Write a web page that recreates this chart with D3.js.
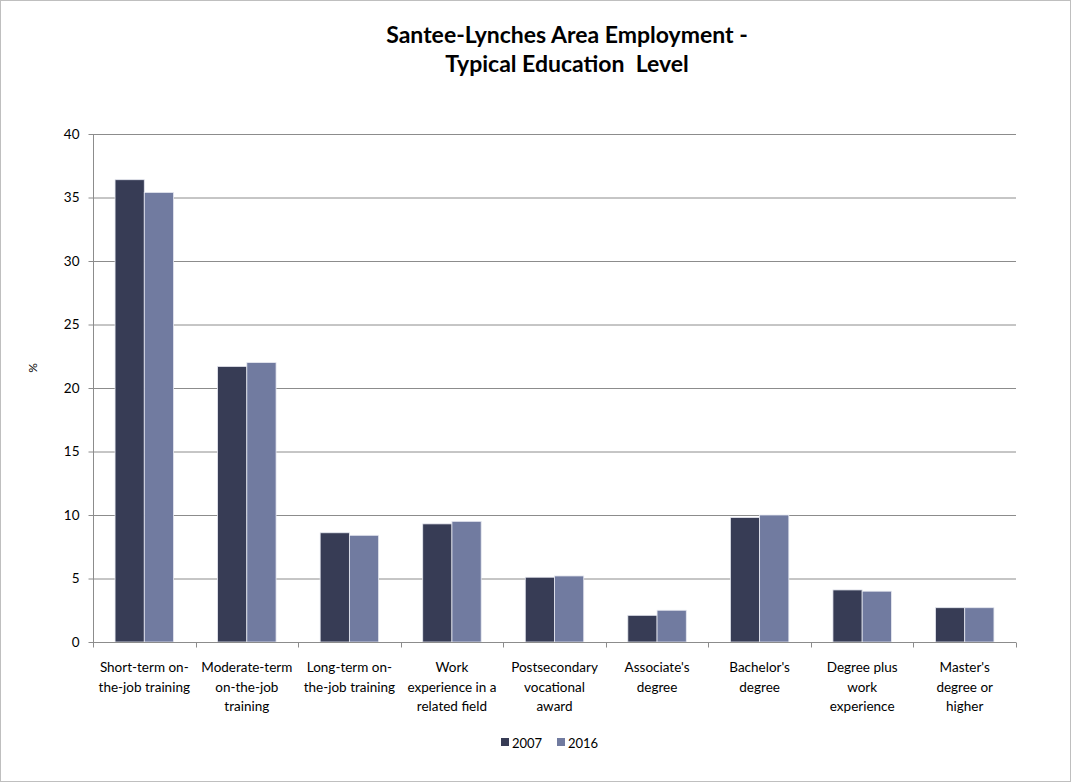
<!DOCTYPE html>
<html><head><meta charset="utf-8">
<script src="https://cdn.jsdelivr.net/npm/d3@7"></script>
<style>body{margin:0;background:#fff}svg{display:block}</style>
</head><body>
<script>
const categories = [
  ["Short-term on-","the-job training"],
  ["Moderate-term","on-the-job","training"],
  ["Long-term on-","the-job training"],
  ["Work","experience in a","related field"],
  ["Postsecondary","vocational","award"],
  ["Associate's","degree"],
  ["Bachelor's","degree"],
  ["Degree plus","work","experience"],
  ["Master's","degree or","higher"]
];
const seriesNames = ["2007","2016"];
const values2007 = [36.4, 21.7, 8.6, 9.3, 5.1, 2.1, 9.8, 4.1, 2.7];
const values2016 = [35.4, 22.0, 8.4, 9.5, 5.2, 2.5, 10.0, 4.0, 2.7];
const yTicks = [0,5,10,15,20,25,30,35,40];
const colors = ["#373C55","#717BA0"];
const titleLines = ["Santee-Lynches Area Employment -","Typical Education  Level"];

const W=1071,H=782;
const m={left:93,right:1016,top:134,bottom:642};
const font="Lato, 'Open Sans', sans-serif";
const svg=d3.select("body").append("svg").attr("width",W).attr("height",H);
svg.append("rect").attr("x",0.5).attr("y",0.5).attr("width",W-1).attr("height",H-1).attr("fill","#fff").attr("stroke","#bfbfbf");

const x=d3.scaleBand().domain(d3.range(categories.length)).range([m.left,m.right]).paddingInner(0.43).paddingOuter(0.215);
const x1=d3.scaleBand().domain(seriesNames).range([0,x.bandwidth()]);
const y=d3.scaleLinear().domain([0,40]).range([m.bottom,m.top]);

// grid
svg.append("g").selectAll("line").data(yTicks.filter(d=>d>0)).join("line")
  .attr("x1",m.left).attr("x2",m.right).attr("y1",d=>y(d)+0.5).attr("y2",d=>y(d)+0.5)
  .attr("stroke","#8c8c8c").attr("stroke-width",1);

// bars
const data=[values2007,values2016];
const g=svg.append("g");
seriesNames.forEach((s,si)=>{
  g.selectAll(".b"+si).data(data[si]).join("rect")
   .attr("x",(d,i)=>x(i)+x1(s)).attr("width",x1.bandwidth())
   .attr("y",d=>y(d)).attr("height",d=>y(0)-y(d))
   .attr("fill",colors[si]).attr("stroke","#e6e8f0").attr("stroke-width",0.8);
});

// y axis
const ya=svg.append("g").attr("transform",`translate(${m.left+0.5},0)`)
  .call(d3.axisLeft(y).tickValues(yTicks).tickSize(5).tickPadding(9));
ya.select(".domain").attr("stroke","#8c8c8c").attr("d",`M0,${m.top}V${m.bottom}`);
ya.selectAll(".tick line").attr("stroke","#8c8c8c");
ya.selectAll("text").attr("font-family",font).attr("font-size",13.5).attr("fill","#000");

// x axis
const xa=svg.append("g").attr("transform",`translate(0,${m.bottom+0.5})`);
xa.append("line").attr("x1",m.left).attr("x2",m.right).attr("stroke","#8c8c8c");
const bounds=d3.range(categories.length+1).map(i=>m.left+i*(m.right-m.left)/categories.length);
xa.selectAll(".t").data(bounds).join("line").attr("x1",d=>Math.round(d)+0.5).attr("x2",d=>Math.round(d)+0.5).attr("y1",0).attr("y2",5).attr("stroke","#8c8c8c");
categories.forEach((lines,i)=>{
  const cx=x(i)+x.bandwidth()/2;
  const t=svg.append("text").attr("x",cx).attr("y",m.bottom+30)
    .attr("text-anchor","middle").attr("font-family",font).attr("font-size",13.5).attr("fill","#000");
  lines.forEach((l,k)=>t.append("tspan").attr("x",cx).attr("dy",k?19.5:0).text(l));
});

// y label
svg.append("text").attr("transform","translate(37,368) rotate(-90)").attr("text-anchor","middle")
  .attr("font-family",font).attr("font-size",12).text("%");

// title
const tx=567;
const tt=svg.append("text").attr("x",tx).attr("y",43).attr("text-anchor","middle")
  .attr("font-family",font).attr("font-weight","bold").attr("font-size",23);
titleLines.forEach((l,k)=>tt.append("tspan").attr("x",tx).attr("dy",k?29:0).attr("xml:space","preserve").text(l));

// legend
const lg=svg.append("g").attr("transform","translate(501,738)");
seriesNames.forEach((s,i)=>{
  const gx=i*56;
  lg.append("rect").attr("x",gx).attr("y",0).attr("width",8).attr("height",8).attr("fill",colors[i]);
  lg.append("text").attr("x",gx+11).attr("y",10).attr("font-family",font).attr("font-size",13).text(s);
});
</script>
</body></html>
